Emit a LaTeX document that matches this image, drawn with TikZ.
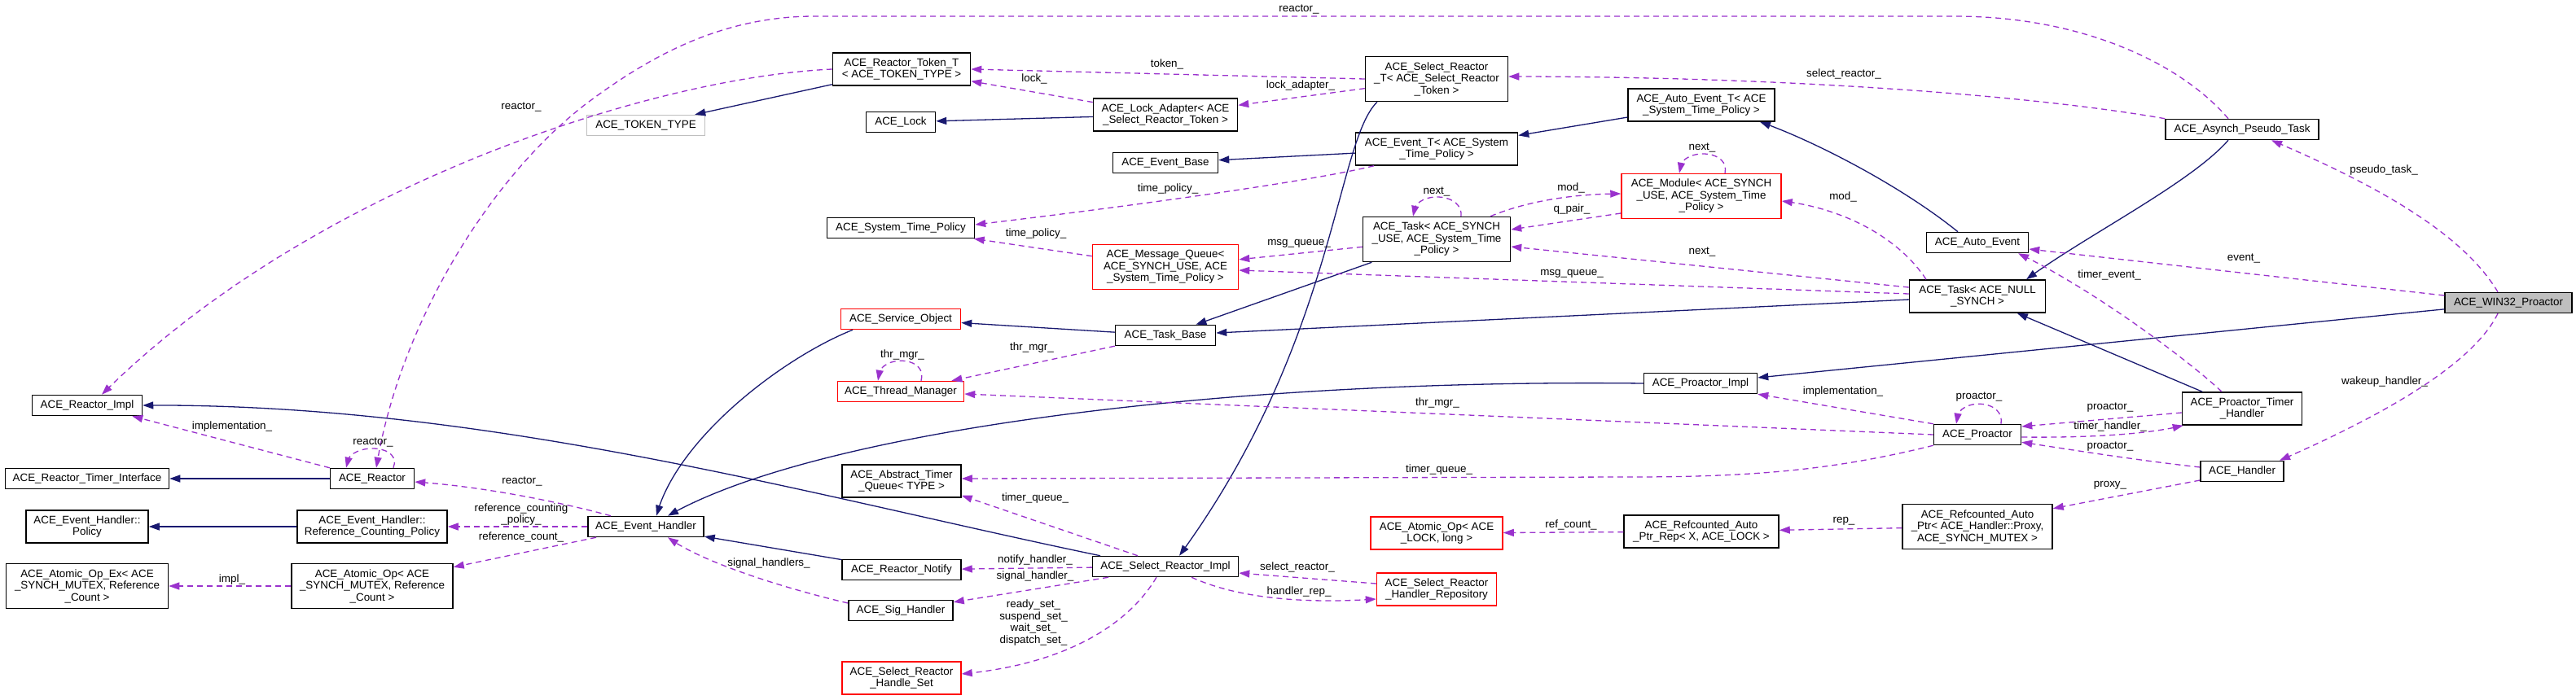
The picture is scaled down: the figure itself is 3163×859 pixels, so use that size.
\documentclass[tikz,border=0pt]{standalone}
\usepackage{fontspec}
\setmainfont{Liberation Sans}
\usetikzlibrary{arrows.meta,bending}

\definecolor{edgeblue}{RGB}{25,25,112}
\definecolor{edgepurple}{RGB}{154,50,205}
\definecolor{boxgray}{RGB}{191,191,191}

\begin{document}
\begin{tikzpicture}[x=1pt,y=-1pt,
  font=\fontsize{13.4}{14.5}\selectfont,
  cls/.style={draw=black, line width=1.5pt, fill=white, align=center, inner sep=0pt, minimum height=25pt},
  two/.style={minimum height=40pt},
  three/.style={minimum height=55pt},
  undoc/.style={draw=red},
  inherit/.style={draw=edgeblue, line width=1.3pt, -{Triangle[length=13pt,width=9pt]}},
  uses/.style={draw=edgepurple, line width=1.3pt, dash pattern=on 7pt off 5pt, -{Triangle[length=13pt,width=9pt]}},
  lbl/.style={inner sep=0pt, align=center}]

  \fill[white] (0,0) rectangle (3163,859);
  \useasboundingbox (0,0) rectangle (3163,859);

  % classes
  \node[cls,two,minimum width=169pt] (tokenT) at (1107,85) {ACE\_Reactor\_Token\_T\\< ACE\_TOKEN\_TYPE >};
  \node[cls,draw=boxgray,minimum width=145pt] (tokentype) at (793,154) {ACE\_TOKEN\_TYPE};
  \node[cls,minimum width=85pt] (lock) at (1106,150) {ACE\_Lock};
  \node[cls,two,minimum width=177pt] (lockadapter) at (1431,141) {ACE\_Lock\_Adapter< ACE\\\_Select\_Reactor\_Token >};
  \node[cls,minimum width=129pt] (eventbase) at (1431,200) {ACE\_Event\_Base};
  \node[cls,minimum width=181pt] (systimepolicy) at (1106,280) {ACE\_System\_Time\_Policy};
  \node[cls,three,undoc,minimum width=179pt] (msgqueue) at (1431,328) {ACE\_Message\_Queue<\\ACE\_SYNCH\_USE, ACE\\\_System\_Time\_Policy >};
  \node[cls,undoc,minimum width=147pt] (serviceobj) at (1106,392) {ACE\_Service\_Object};
  \node[cls,minimum width=123pt] (taskbase) at (1431,412) {ACE\_Task\_Base};
  \node[cls,three,minimum width=175pt] (selreactorT) at (1764,97) {ACE\_Select\_Reactor\\\_T< ACE\_Select\_Reactor\\\_Token >};
  \node[cls,two,minimum width=180pt] (autoeventT) at (2089,129) {ACE\_Auto\_Event\_T< ACE\\\_System\_Time\_Policy >};
  \node[cls,two,minimum width=199pt] (eventT) at (1764,183) {ACE\_Event\_T< ACE\_System\\\_Time\_Policy >};
  \node[cls,three,undoc,minimum width=196pt] (module) at (2089,241) {ACE\_Module< ACE\_SYNCH\\\_USE, ACE\_System\_Time\\\_Policy >};
  \node[cls,three,minimum width=181pt] (taskSynch) at (1764,294) {ACE\_Task< ACE\_SYNCH\\\_USE, ACE\_System\_Time\\\_Policy >};
  \node[cls,minimum width=125pt] (autoevent) at (2428,298) {ACE\_Auto\_Event};
  \node[cls,two,minimum width=167pt] (taskNull) at (2428,364) {ACE\_Task< ACE\_NULL\\\_SYNCH >};
  \node[cls,minimum width=188pt] (pseudotask) at (2753,159) {ACE\_Asynch\_Pseudo\_Task};
  \node[cls,fill=boxgray,minimum width=156pt] (win32) at (3080,372) {ACE\_WIN32\_Proactor};
  \node[cls,minimum width=135pt] (reactorimpl) at (107,498) {ACE\_Reactor\_Impl};
  \node[cls,minimum width=201pt] (timerinterface) at (107,588) {ACE\_Reactor\_Timer\_Interface};
  \node[cls,minimum width=103pt] (reactor) at (457,588) {ACE\_Reactor};
  \node[cls,two,minimum width=150pt] (policy) at (107,647) {ACE\_Event\_Handler::\\Policy};
  \node[cls,two,minimum width=184pt] (refcountpolicy) at (457,647) {ACE\_Event\_Handler::\\Reference\_Counting\_Policy};
  \node[cls,minimum width=142pt] (eventhandler) at (793,647) {ACE\_Event\_Handler};
  \node[cls,three,minimum width=199pt] (atomicopex) at (107,720) {ACE\_Atomic\_Op\_Ex< ACE\\\_SYNCH\_MUTEX, Reference\\\_Count >};
  \node[cls,three,minimum width=198pt] (atomicop) at (457,720) {ACE\_Atomic\_Op< ACE\\\_SYNCH\_MUTEX, Reference\\\_Count >};
  \node[cls,undoc,minimum width=155pt] (threadmgr) at (1106,481) {ACE\_Thread\_Manager};
  \node[cls,two,minimum width=146pt] (timerqueue) at (1107,591) {ACE\_Abstract\_Timer\\\_Queue< TYPE >};
  \node[cls,minimum width=179pt] (selreactorimpl) at (1431,696) {ACE\_Select\_Reactor\_Impl};
  \node[cls,minimum width=146pt] (reactornotify) at (1107,700) {ACE\_Reactor\_Notify};
  \node[cls,minimum width=128pt] (sighandler) at (1106,750) {ACE\_Sig\_Handler};
  \node[cls,two,undoc,minimum width=146pt] (handleset) at (1107,833) {ACE\_Select\_Reactor\\\_Handle\_Set};
  \node[cls,minimum width=139pt] (proactorimpl) at (2088,471) {ACE\_Proactor\_Impl};
  \node[cls,minimum width=107pt] (proactor) at (2428,534) {ACE\_Proactor};
  \node[cls,two,undoc,minimum width=162pt] (atomicoplock) at (1764,655) {ACE\_Atomic\_Op< ACE\\\_LOCK, long >};
  \node[cls,two,minimum width=190pt] (autoptrrep) at (2089,653) {ACE\_Refcounted\_Auto\\\_Ptr\_Rep< X, ACE\_LOCK >};
  \node[cls,three,minimum width=184pt] (autoptr) at (2428,647) {ACE\_Refcounted\_Auto\\\_Ptr< ACE\_Handler::Proxy,\\ ACE\_SYNCH\_MUTEX >};
  \node[cls,two,undoc,minimum width=147pt] (handlerrepo) at (1764,724) {ACE\_Select\_Reactor\\\_Handler\_Repository};
  \node[cls,two,minimum width=147pt] (timerhandler) at (2753,502) {ACE\_Proactor\_Timer\\\_Handler};
  \node[cls,minimum width=102pt] (handler) at (2753,579) {ACE\_Handler};

  % inheritance
  \draw[inherit] (tokenT) -- (tokentype);
  \draw[inherit] (lockadapter) -- (lock);
  \draw[inherit] (eventT) -- (eventbase);
  \draw[inherit] (autoeventT) -- (eventT);
  \draw[inherit] ([xshift=-24pt]autoevent.north) .. controls (2330,225) and (2220,170) .. ([xshift=72pt]autoeventT.south);
  \draw[inherit] (taskSynch) -- (taskbase);
  \draw[inherit] (taskNull) -- (taskbase);
  \draw[inherit] (taskbase) -- (serviceobj);
  \draw[inherit] ([xshift=-59pt]serviceobj.south) .. controls (960,440) and (830,540) .. ([xshift=13pt]eventhandler.north);
  \draw[inherit] (proactorimpl.west) .. controls (1500,465) and (1000,530) .. ([xshift=27pt]eventhandler.north);
  \draw[inherit] ([xshift=-80pt]selreactorimpl.north) .. controls (1000,610) and (600,495) .. (reactorimpl.east);
  \draw[inherit] ([xshift=-73pt]selreactorT.south) .. controls (1640,175) and (1640,420) .. ([xshift=17pt]selreactorimpl.north);
  \draw[inherit] ([xshift=-17pt]pseudotask.south) .. controls (2690,225) and (2560,290) .. ([xshift=60pt]taskNull.north);
  \draw[inherit] (win32) -- (proactorimpl);
  \draw[inherit] (timerhandler) -- (taskNull);
  \draw[inherit] (reactor) -- (timerinterface);
  \draw[inherit] (refcountpolicy) -- (policy);
  \draw[inherit] (reactornotify) -- (eventhandler);

  % members
  \draw[uses] ([xshift=-17pt]pseudotask.north) .. controls (2680,80) and (2560,20) .. (2400,20) -- (1000,20)
    .. controls (880,20) and (790,75) .. (719,128) .. controls (600,220) and (490,400) .. ([xshift=5pt]reactor.north);
  \draw[uses] (tokenT.west) .. controls (800,95) and (380,230) .. ([xshift=18pt]reactorimpl.north);
  \draw[uses] (selreactorT.west) -- (tokenT.east);
  \draw[uses] (lockadapter) -- (tokenT);
  \draw[uses] (selreactorT) -- (lockadapter);
  \draw[uses] (pseudotask.north west) .. controls (2500,118) and (2200,94) .. ([yshift=3pt]selreactorT.east);
  \draw[uses] ([xshift=-77pt]eventT.south) .. controls (1600,225) and (1350,258) .. ([yshift=4pt]systimepolicy.east);
  \draw[uses] (msgqueue) -- (systimepolicy);
  \draw[uses] (taskSynch) -- (msgqueue);
  \draw[uses] ([yshift=3pt]taskNull.west) -- ([yshift=-4pt]msgqueue.east);
  \draw[uses] ([yshift=11pt]taskNull.west) -- ([yshift=-9pt]taskSynch.east);
  \draw[uses] ([xshift=-63pt]taskNull.north) .. controls (2330,290) and (2260,255) .. ([yshift=-6pt]module.east);
  \draw[uses] ([xshift=66pt]taskSynch.north) .. controls (1880,245) and (1940,238) .. ([yshift=3pt]module.west);
  \draw[uses] ([yshift=-21pt]module.west) -- ([yshift=12pt]taskSynch.east);
  \draw[uses] ([xshift=29pt]module.north) .. controls (2125,181) and (2058,181) .. ([xshift=-27pt]module.north);
  \draw[uses] ([xshift=30pt]taskSynch.north) .. controls (1797,234) and (1732,234) .. ([xshift=-29pt]taskSynch.north);
  \draw[uses] ([xshift=-13pt]win32.north) .. controls (3020,280) and (2900,220) .. ([xshift=36pt]pseudotask.south);
  \draw[uses] ([yshift=9pt]win32.west) -- ([yshift=-8pt]autoevent.east);
  \draw[uses] ([xshift=-25pt]timerhandler.north) .. controls (2690,445) and (2570,355) .. ([xshift=50pt]autoevent.south);
  \draw[uses] ([xshift=-13pt]win32.south) .. controls (3040,440) and (2950,500) .. ([xshift=46pt]handler.north);
  \draw[uses] ([yshift=5pt]handler.west) .. controls (2620,565) and (2540,552) .. ([yshift=4pt]proactor.south east);
  \draw[uses] ([yshift=-5pt]timerhandler.west) -- ([yshift=10pt]proactor.east);
  \draw[uses] ([yshift=-3pt]proactor.east) .. controls (2570,538) and (2640,533) .. ([xshift=2pt]timerhandler.south west);
  \draw[uses] ([xshift=29pt]proactor.north) .. controls (2462,488) and (2398,488) .. ([xshift=-26pt]proactor.north);
  \draw[uses] (proactor.north west) -- (proactorimpl.south east);
  \draw[uses] (proactor.west) -- ([yshift=-3pt]threadmgr.east);
  \draw[uses] (proactor.south west) .. controls (2250,578) and (2150,586) .. (2000,586) -- ([yshift=3pt]timerqueue.east);
  \draw[uses] (taskbase) -- (threadmgr);
  \draw[uses] ([xshift=25pt]threadmgr.north) .. controls (1140,435) and (1074,435) .. ([xshift=-28pt]threadmgr.north);
  \draw[uses] (reactor.north west) -- ([xshift=-13pt]reactorimpl.south east);
  \draw[uses] ([xshift=26pt]reactor.north) .. controls (495,543) and (422,543) .. ([xshift=-32pt]reactor.north);
  \draw[uses] ([xshift=-43pt]eventhandler.north) .. controls (700,620) and (600,598) .. ([yshift=-4pt]reactor.east);
  \draw[uses] (eventhandler) -- (refcountpolicy);
  \draw[uses] ([xshift=-61pt]eventhandler.south) -- ([yshift=-5pt]atomicop.north east);
  \draw[uses] (atomicop) -- (atomicopex);
  \draw[uses] ([yshift=9pt]sighandler.west) .. controls (960,722) and (860,690) .. ([xshift=27pt]eventhandler.south);
  \draw[uses] (selreactorimpl) -- (reactornotify);
  \draw[uses] ([xshift=-70pt]selreactorimpl.south) -- ([yshift=-3pt]sighandler.north east);
  \draw[uses] ([xshift=-34pt]selreactorimpl.north) -- ([yshift=3pt]timerqueue.south east);
  \draw[uses] ([xshift=-11pt]selreactorimpl.south) .. controls (1390,760) and (1320,815) .. ([yshift=5pt]handleset.east);
  \draw[uses] ([yshift=7pt]handlerrepo.west) -- ([yshift=-8pt]selreactorimpl.east);
  \draw[uses] ([xshift=32pt]selreactorimpl.south) .. controls (1520,735) and (1600,742) .. ([yshift=-12pt]handlerrepo.west);
  \draw[uses] (autoptrrep) -- (atomicoplock);
  \draw[uses] (autoptr) -- (autoptrrep);
  \draw[uses] ([yshift=-11pt]handler.west) -- ([yshift=-6pt]autoptr.north east);

  % member names
  \node[lbl] (lbReactorTop) at (1595,12) {reactor\_};
  \node[lbl] (lbReactorImpl) at (640,131) {reactor\_};
  \node[lbl] (lbToken) at (1433,79) {token\_};
  \node[lbl] (lbLock) at (1270,97) {lock\_};
  \node[lbl] (lbLockAdapter) at (1597,105) {lock\_adapter\_};
  \node[lbl] (lbSelectReactor) at (2264,91) {select\_reactor\_};
  \node[lbl] (lbTimePolicyA) at (1434,232) {time\_policy\_};
  \node[lbl] (lbTimePolicyB) at (1272,287) {time\_policy\_};
  \node[lbl] (lbMsgQueueA) at (1595,299) {msg\_queue\_};
  \node[lbl] (lbMsgQueueB) at (1930,336) {msg\_queue\_};
  \node[lbl] (lbNextA) at (2090,181) {next\_};
  \node[lbl] (lbNextB) at (1764,235) {next\_};
  \node[lbl] (lbNextC) at (2090,309) {next\_};
  \node[lbl] (lbModA) at (1929,231) {mod\_};
  \node[lbl] (lbModB) at (2263,242) {mod\_};
  \node[lbl] (lbQPair) at (1930,257) {q\_pair\_};
  \node[lbl] (lbPseudoTask) at (2927,209) {pseudo\_task\_};
  \node[lbl] (lbEvent) at (2755,317) {event\_};
  \node[lbl] (lbTimerEvent) at (2590,338) {timer\_event\_};
  \node[lbl] (lbWakeup) at (2928,469) {wakeup\_handler\_};
  \node[lbl] (lbProactorA) at (2430,488) {proactor\_};
  \node[lbl] (lbProactorB) at (2591,501) {proactor\_};
  \node[lbl] (lbTimerHandler) at (2591,524) {timer\_handler\_};
  \node[lbl] (lbProactorC) at (2591,549) {proactor\_};
  \node[lbl] (lbProxy) at (2591,596) {proxy\_};
  \node[lbl] (lbImplP) at (2263,481) {implementation\_};
  \node[lbl] (lbThrMgrP) at (1765,495) {thr\_mgr\_};
  \node[lbl] (lbTimerQueueP) at (1767,577) {timer\_queue\_};
  \node[lbl] (lbThrMgrT) at (1267,427) {thr\_mgr\_};
  \node[lbl] (lbThrMgrSelf) at (1108,436) {thr\_mgr\_};
  \node[lbl] (lbRefCount) at (1929,645) {ref\_count\_};
  \node[lbl] (lbRep) at (2264,640) {rep\_};
  \node[lbl] (lbSelectReactorB) at (1593,697) {select\_reactor\_};
  \node[lbl] (lbHandlerRep) at (1595,727) {handler\_rep\_};
  \node[lbl] (lbTimerQueueS) at (1271,612) {timer\_queue\_};
  \node[lbl] (lbNotify) at (1271,688) {notify\_handler\_};
  \node[lbl] (lbSignal) at (1271,708) {signal\_handler\_};
  \node[lbl] (lbSets) at (1269,765) {ready\_set\_\\suspend\_set\_\\wait\_set\_\\dispatch\_set\_};
  \node[lbl] (lbSignals) at (944,692) {signal\_handlers\_};
  \node[lbl] (lbImplR) at (285,524) {implementation\_};
  \node[lbl] (lbReactorSelf) at (458,543) {reactor\_};
  \node[lbl] (lbReactorEH) at (641,591) {reactor\_};
  \node[lbl] (lbRefPolicy) at (640,632) {reference\_counting\\\_policy\_};
  \node[lbl] (lbRefCountEH) at (640,660) {reference\_count\_};
  \node[lbl] (lbImpl) at (285,712) {impl\_};
\end{tikzpicture}
\end{document}
